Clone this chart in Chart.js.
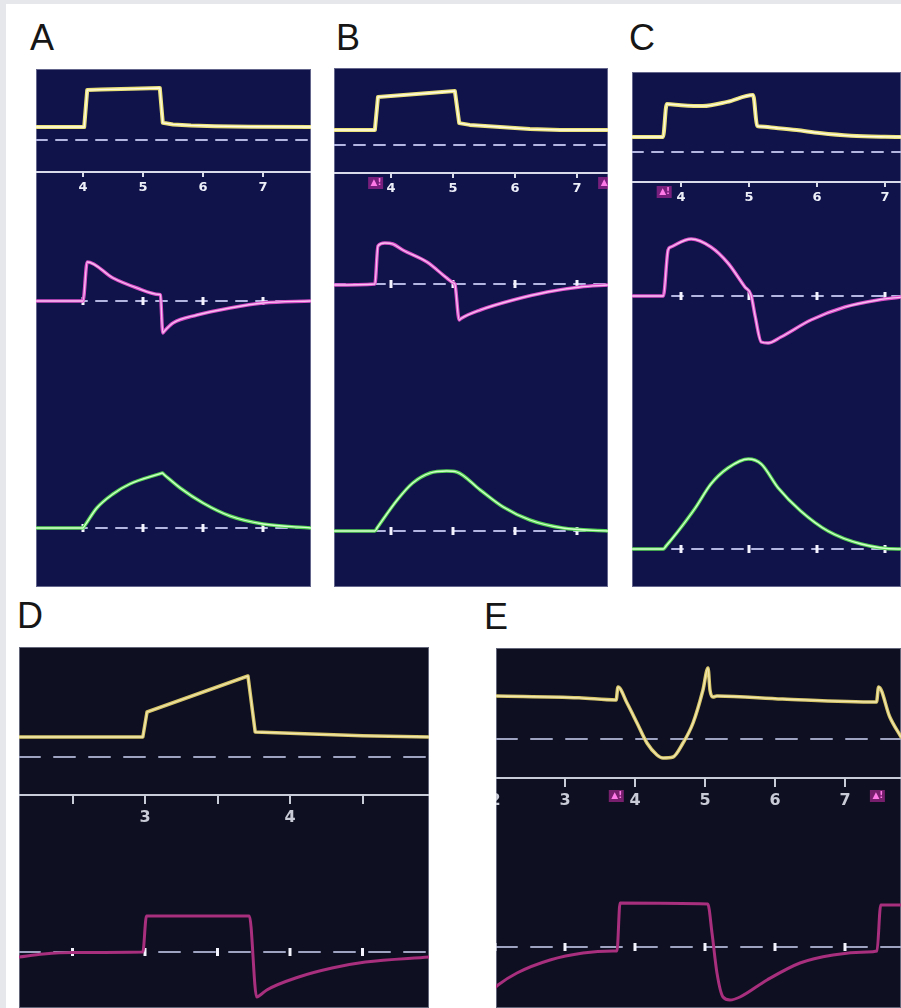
<!DOCTYPE html>
<html>
<head>
<meta charset="utf-8">
<script src="https://cdn.jsdelivr.net/npm/chart.js@4.4.1/dist/chart.umd.min.js"></script>
<style>
  body { margin: 0; width: 901px; height: 1008px; overflow: hidden; background: #e6e7eb; font-family: "Liberation Sans", Arial, sans-serif; }
  #page { position: absolute; left: 6px; top: 4px; right: 0; bottom: 0; background: #fff; }
  .panel { position: absolute; box-sizing: border-box; }
  .letter { position: absolute; font-size: 36px; line-height: 1; color: #161616; }
  canvas { position: absolute; }
</style>
</head>
<body>
<div id="page"></div>
<script>
// time (s) of the axis ticks and their labels
const ticksABC = [4, 5, 6, 7];
const ticksD = [2.5, 3, 3.5, 4, 4.5];
const labelsD = [3, 4];
const ticksE = [2, 3, 4, 5, 6, 7];

// alarm marks on the time axis (s)
const alarmsB = [3.76, 7.47];
const alarmsC = [3.76];
const alarmsE = [3.74, 7.47];

// [time s, pressure cmH2O]
const pressureA = [[3.2, 5], [4.02, 5], [4.07, 19.2], [4.3, 19.4], [4.8, 19.7], [5.28, 20], [5.33, 6.6], [5.5, 6.0], [5.8, 5.6], [6.2, 5.3], [6.8, 5.1], [7.8, 5.0]];
const pressureB = [[3.08, 5], [3.74, 5], [3.79, 16], [5.03, 18], [5.1, 7.3], [5.27, 6.7], [5.76, 6.0], [6.24, 5.3], [6.73, 5.0], [7.5, 5.0]];
const pressureC = [[3.27, 5], [3.735, 5], [3.79, 16], [4.0, 15.6], [4.32, 15.3], [4.68, 16.7], [5.06, 19], [5.12, 8.7], [5.16, 8.5], [5.4, 8.0], [5.7, 7.3], [6.04, 6.3], [6.5, 5.4], [7.0, 5.05], [7.24, 5.0]];
const pressureD = [[2.13, 5], [2.985, 5], [3.014, 11.25], [3.71, 20.25], [3.76, 6.25], [4.1, 5.8], [4.5, 5.3], [4.96, 5.0]];
const pressureE = [[2.01, 10.75], [3.2, 10.3], [3.73, 9.75], [3.757, 13], [3.886, 9], [4.029, 4], [4.171, -1], [4.314, -4], [4.4, -4.75], [4.543, -4.5], [4.686, -1], [4.829, 4], [4.971, 12.25], [5.043, 17.75], [5.071, 12.25], [5.114, 10.5], [5.17, 10.75], [6.11, 10], [7.45, 9.25], [7.48, 13], [7.64, 5.5], [7.8, 0.5]];

// [time s, flow L/min]
const flowA = [[3.2, 0], [4.0, 0], [4.07, 39], [4.5, 23], [4.9, 13], [5.27, 6.5], [5.29, 6], [5.33, -32], [5.35, -30.5], [5.5, -22], [5.9, -14], [6.45, -7], [7.0, -2], [7.8, 0]];
const flowB = [[3.08, -1], [3.74, 0], [3.79, 38], [3.9, 41], [4.03, 40], [4.19, 34], [4.58, 22], [4.9, 6], [5.01, 1], [5.03, 0], [5.1, -36], [5.13, -34.5], [5.44, -26], [5.97, -16], [6.52, -8], [7.05, -3], [7.5, -1]];
const flowC = [[3.27, 0], [3.74, 0], [3.81, 46], [3.85, 49], [4.15, 57], [4.44, 49], [4.69, 33], [4.94, 9], [5.03, 1], [5.09, -20], [5.18, -46], [5.28, -47], [5.47, -41], [5.91, -24], [6.41, -11], [6.9, -4], [7.24, -1]];
const flowD = [[2.13, -5], [2.3, -2], [2.5, -0.5], [2.985, 0], [3.01, 36], [3.72, 36], [3.77, -45], [3.79, -43.5], [3.84, -38], [4.06, -25], [4.29, -16], [4.52, -10], [4.96, -5]];
const flowE = [[2.01, -40], [2.043, -38], [2.314, -26], [2.786, -13], [3.257, -6], [3.686, -4], [3.743, -4], [3.786, 44], [5.04, 43], [5.1, 14], [5.171, -26], [5.257, -50], [5.357, -53], [5.5, -50], [5.886, -33], [6.357, -16], [6.829, -8], [7.314, -5], [7.457, -4], [7.51, 42], [7.8, 42]];

// [time s, volume mL]
const volumeA = [[3.2, 0], [4.0, 0], [4.03, 25], [4.23, 200], [4.5, 340], [4.78, 440], [5.29, 544], [5.32, 550], [5.35, 535], [5.62, 400], [6.0, 250], [6.45, 120], [7.0, 40], [7.8, 0]];
const volumeB = [[3.08, 0], [3.74, 0], [3.78, 35], [4.1, 310], [4.35, 480], [4.63, 580], [4.9, 600], [5.06, 590], [5.44, 410], [5.81, 240], [6.24, 110], [6.77, 30], [7.5, 0]];
const volumeC = [[3.27, 0], [3.74, 0], [3.78, 30], [3.96, 180], [4.21, 410], [4.44, 650], [4.69, 810], [4.99, 900], [5.18, 850], [5.43, 610], [5.76, 380], [6.16, 180], [6.65, 50], [7.19, 0], [7.24, 0]];

const NAVY = '#10134a';
const DARK = '#0e1021';

const styleTop = {
  pressure: { color: '#ebe27c', core: '#fffbe4', width: 4 },
  flow: { color: '#d94fca', core: '#f7c0ef', width: 3.5 },
  volume: { color: '#55d354', core: '#d4ffcc', width: 3.5 },
  dash: [11, 9], dashColor: '#b3b6e0',
  axis: { font: 13, tickLength: 5, padding: 3, color: '#eceef8', line: '#d9dbea' }
};
const styleBottom = {
  pressure: { color: '#d8c66a', core: '#f1e7b0', width: 3.5 },
  flow: { color: '#a82f7d', core: null, width: 3 },
  dash: [21, 14], dashColor: '#9ea3c2',
  axis: { font: 16, tickLength: 9, padding: 4, color: '#c9cbd6', line: '#c8cbd8' }
};

// layout of the five panels (page pixels); xRef is where tRef sits
const panels = [
  { letter: 'A', lx: 30, ly: 20, left: 36, top: 69, width: 275, height: 518, bg: NAVY, st: styleTop,
    tRef: 4, xRef: 83, pps: 60, ticks: ticksABC, labels: ticksABC, alarms: [], alarmDy: 10, axisH: 28,
    strips: [
      { kind: 'pressure', top: 69, bottom: 172, zero: 140, ppu: 2.6, data: pressureA, axis: true, straight: true },
      { kind: 'flow', top: 200, bottom: 400, zero: 301, ppu: 1, data: flowA, marks: ticksABC },
      { kind: 'volume', top: 400, bottom: 587, zero: 528, ppu: 0.1, data: volumeA, marks: ticksABC }
    ] },
  { letter: 'B', lx: 336, ly: 20, left: 334, top: 68, width: 274, height: 519, bg: NAVY, st: styleTop,
    tRef: 4, xRef: 391, pps: 62, ticks: ticksABC, labels: ticksABC, alarms: alarmsB, alarmDy: 10, axisH: 28,
    strips: [
      { kind: 'pressure', top: 68, bottom: 173, zero: 145, ppu: 3, data: pressureB, axis: true, straight: true },
      { kind: 'flow', top: 201, bottom: 400, zero: 284, ppu: 1, data: flowB, marks: ticksABC },
      { kind: 'volume', top: 400, bottom: 587, zero: 531, ppu: 0.1, data: volumeB, marks: ticksABC }
    ] },
  { letter: 'C', lx: 629, ly: 20, left: 632, top: 72, width: 269, height: 515, bg: NAVY, st: styleTop,
    tRef: 4, xRef: 681, pps: 68, ticks: ticksABC, labels: ticksABC, alarms: alarmsC, alarmDy: 10, axisH: 28,
    strips: [
      { kind: 'pressure', top: 72, bottom: 182, zero: 152, ppu: 3, data: pressureC, axis: true },
      { kind: 'flow', top: 210, bottom: 420, zero: 296, ppu: 1, data: flowC, marks: ticksABC },
      { kind: 'volume', top: 420, bottom: 587, zero: 549, ppu: 0.1, data: volumeC, marks: ticksABC }
    ] },
  { letter: 'D', lx: 17, ly: 598, left: 19, top: 647, width: 410, height: 361, bg: DARK, st: styleBottom,
    tRef: 3, xRef: 145, pps: 145, ticks: ticksD, labels: labelsD, alarms: [], alarmDy: 20, axisH: 30,
    strips: [
      { kind: 'pressure', top: 647, bottom: 795, zero: 757, ppu: 4, data: pressureD, axis: true, straight: true },
      { kind: 'flow', top: 825, bottom: 1008, zero: 952, ppu: 1, data: flowD, marks: ticksD }
    ] },
  { letter: 'E', lx: 484, ly: 599, left: 496, top: 648, width: 405, height: 360, bg: DARK, st: styleBottom,
    tRef: 3, xRef: 565, pps: 70, ticks: ticksE, labels: ticksE, alarms: alarmsE, alarmDy: 18, axisH: 32,
    strips: [
      { kind: 'pressure', top: 648, bottom: 778, zero: 739, ppu: 4, data: pressureE, axis: true },
      { kind: 'flow', top: 810, bottom: 1008, zero: 947, ppu: 1, data: flowE, marks: ticksE }
    ] }
];

const alarmPlugin = {
  id: 'alarms',
  afterDraw(chart, args, opts) {
    if (!opts || !opts.times || !opts.times.length) return;
    const ctx = chart.ctx;
    const xs = chart.scales.x;
    const y = chart.chartArea.bottom + opts.dy;
    ctx.save();
    ctx.font = 'bold 9px "DejaVu Sans"';
    ctx.textAlign = 'center';
    ctx.textBaseline = 'middle';
    opts.times.forEach(t => {
      const x = xs.getPixelForValue(t);
      ctx.fillStyle = 'rgba(190,40,160,0.6)';
      ctx.fillRect(x - 8, y - 6, 15, 12);
      ctx.fillStyle = '#ff7ae8';
      ctx.fillText('▲!', x, y);
    });
    ctx.restore();
  }
};

function pts(arr) {
  return arr.map(p => ({ x: p[0], y: p[1] }));
}

function makeStrip(p, s, tMin, tMax) {
  const st = p.st;
  const look = st[s.kind];
  const axisH = s.axis ? p.axisH : 0;
  const canvas = document.createElement('canvas');
  canvas.width = p.width;
  canvas.height = s.bottom - s.top + axisH;
  canvas.style.left = p.left + 'px';
  canvas.style.top = s.top + 'px';
  document.body.appendChild(canvas);

  const curve = s.straight
    ? { cubicInterpolationMode: 'default', tension: 0 }
    : { cubicInterpolationMode: 'monotone' };

  const datasets = [];
  if (look.core) {
    datasets.push({ data: pts(s.data), borderColor: look.core, borderWidth: 1.3, order: 0, ...curve });
  }
  datasets.push({ data: pts(s.data), borderColor: look.color, borderWidth: look.width, order: 1, ...curve });
  if (s.marks) {
    datasets.push({
      data: s.marks.map(t => ({ x: t, y: 0 })), showLine: false,
      pointStyle: 'line', rotation: 90, pointRadius: 4,
      pointBorderWidth: 3, pointBorderColor: '#f4f4ff', order: 2
    });
  }
  datasets.push({
    data: [{ x: tMin, y: 0 }, { x: tMax, y: 0 }],
    borderColor: st.dashColor, borderWidth: 2, borderDash: st.dash, order: 3
  });

  const ax = st.axis;
  const xScale = s.axis ? {
    type: 'linear', min: tMin, max: tMax, position: 'bottom',
    afterBuildTicks: scale => { scale.ticks = p.ticks.map(v => ({ value: v })); },
    afterFit: scale => { scale.height = axisH; scale.paddingLeft = 0; scale.paddingRight = 0; },
    ticks: {
      autoSkip: false, maxRotation: 0, padding: ax.padding, color: ax.color,
      font: { family: '"DejaVu Sans"', size: ax.font, weight: 'bold' },
      callback: v => (p.labels.includes(v) ? String(v) : '')
    },
    grid: { drawOnChartArea: false, drawTicks: true, tickLength: ax.tickLength, color: ax.line, lineWidth: 2 },
    border: { display: true, color: ax.line, width: 2 }
  } : { type: 'linear', min: tMin, max: tMax, display: false };

  new Chart(canvas.getContext('2d'), {
    type: 'line',
    data: { datasets },
    plugins: s.axis ? [alarmPlugin] : [],
    options: {
      responsive: false,
      animation: false,
      events: [],
      layout: { padding: 0, autoPadding: false },
      elements: {
        point: { radius: 0 },
        line: { borderCapStyle: 'round', borderJoinStyle: 'round' }
      },
      scales: {
        x: xScale,
        y: { display: false, min: -(s.bottom - s.zero) / s.ppu, max: (s.zero - s.top) / s.ppu }
      },
      plugins: {
        legend: { display: false },
        tooltip: { enabled: false },
        alarms: { times: p.alarms, dy: p.alarmDy }
      }
    }
  });
}

panels.forEach(p => {
  const letter = document.createElement('div');
  letter.className = 'letter';
  letter.textContent = p.letter;
  letter.style.left = p.lx + 'px';
  letter.style.top = p.ly + 'px';
  document.body.appendChild(letter);

  const box = document.createElement('div');
  box.className = 'panel';
  box.style.left = p.left + 'px';
  box.style.top = p.top + 'px';
  box.style.width = p.width + 'px';
  box.style.height = p.height + 'px';
  box.style.background = p.bg;
  box.style.border = '1px solid rgba(170,172,195,0.55)';
  document.body.appendChild(box);

  const tMin = p.tRef - (p.xRef - p.left) / p.pps;
  const tMax = tMin + p.width / p.pps;
  p.strips.forEach(s => makeStrip(p, s, tMin, tMax));
});
</script>
</body>
</html>
